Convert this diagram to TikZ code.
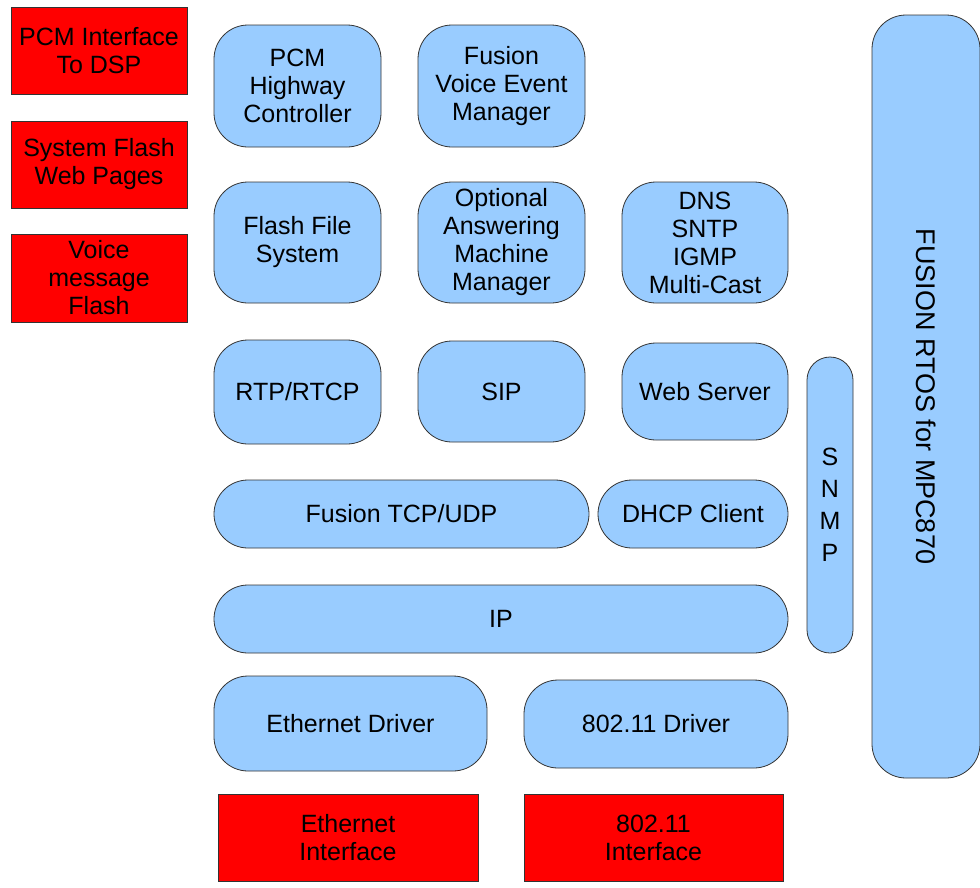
\documentclass[tikz,border=0pt]{standalone}
\usepackage{fontspec}
\setmainfont{Liberation Sans}
\definecolor{boxblue}{HTML}{99CCFF}
\definecolor{hwred}{HTML}{FF0000}
\begin{document}
\begin{tikzpicture}[x=1pt, y=-1pt,
    font=\fontsize{25}{28}\selectfont,
    sw/.style={draw=black!80, line width=0.8pt, fill=boxblue, rounded corners=34pt,
      align=center, inner sep=0pt},
    hw/.style={draw=black!80, line width=0.8pt, fill=hwred, align=center, inner sep=0pt}]

      \useasboundingbox (0, 0) rectangle (980, 887);
      \clip (0, 0) rectangle (980, 887);

      % hardware
      \node[hw, minimum width=176, minimum height=87] (pcmdsp) at (99, 50.5) {PCM Interface\\To DSP};
      \node[hw, minimum width=176, minimum height=87] (webflash) at (99, 164.5) {System Flash\\Web Pages};
      \node[hw, minimum width=176, minimum height=88] (voiceflash) at (99, 278) {Voice\\message\\Flash};
      \node[hw, minimum width=260, minimum height=87] (ethif) at (348, 837.5) {Ethernet\\Interface};
      \node[hw, minimum width=259, minimum height=87] (wlanif) at (653.5, 837.5) {802.11\\Interface};

      % software stack
      \node[sw, minimum width=167, minimum height=122] (pcmhw) at (297.5, 86) {PCM\\Highway\\Controller};
      \node[sw, minimum width=167, minimum height=122] (voiceevt) at (501.5, 86) {Fusion\\Voice Event\\Manager};
      \node[sw, minimum width=167, minimum height=121] (ffs) at (297.5, 242.5) {Flash File\\System};
      \node[sw, minimum width=167, minimum height=121] (ansmach) at (501.5, 242.5) {Optional\\Answering\\Machine\\Manager};
      \node[sw, minimum width=166, minimum height=121] (dns) at (705, 242.5) {DNS\\SNTP\\IGMP\\Multi-Cast};
      \node[sw, minimum width=167, minimum height=104] (rtp) at (297.5, 392) {RTP/RTCP};
      \node[sw, minimum width=167, minimum height=101] (sip) at (501.5, 391.5) {SIP};
      \node[sw, minimum width=166, minimum height=97] (websrv) at (705, 391.5) {Web Server};
      \node[sw, minimum width=375, minimum height=68] (tcpudp) at (401.5, 514) {Fusion TCP/UDP};
      \node[sw, minimum width=190, minimum height=68] (dhcp) at (693, 514) {DHCP Client};
      \node[sw, minimum width=574, minimum height=68] (ip) at (501, 619) {IP};
      \node[sw, minimum width=273, minimum height=95] (ethdrv) at (350.5, 723.5) {Ethernet Driver};
      \node[sw, minimum width=264, minimum height=88] (wlandrv) at (656, 724) {802.11 Driver};
      \node[sw, rounded corners=23pt, minimum width=46, minimum height=296,
        font=\fontsize{25}{32}\selectfont] (snmp) at (830, 505) {S\\N\\M\\P};
      \node[sw, rotate=-90, minimum width=763, minimum height=108,
        font=\fontsize{27}{30}\selectfont] (rtos) at (926, 396.5) {FUSION RTOS for MPC870};

\end{tikzpicture}
\end{document}
